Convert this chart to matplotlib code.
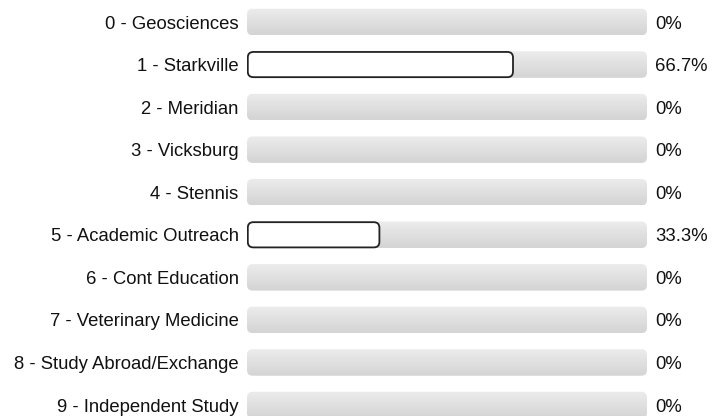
import matplotlib.pyplot as plt
import numpy as np
from matplotlib.patches import FancyBboxPatch
from matplotlib.colors import LinearSegmentedColormap

labels = ["0 - Geosciences", "1 - Starkville", "2 - Meridian", "3 - Vicksburg",
          "4 - Stennis", "5 - Academic Outreach", "6 - Cont Education",
          "7 - Veterinary Medicine", "8 - Study Abroad/Exchange",
          "9 - Independent Study"]
pct = [0, 66.7, 0, 0, 0, 33.3, 0, 0, 0, 0]
pct_text = ["0%", "66.7%", "0%", "0%", "0%", "33.3%", "0%", "0%", "0%", "0%"]

plt.rcParams['font.family'] = ['Liberation Sans', 'DejaVu Sans']

W, H = 713, 416
fig = plt.figure(figsize=(W / 100, H / 100), dpi=100)
ax = fig.add_axes([247 / W, 0, 400 / W, 1])
ax.axis('off')

px_x = 4.0        # pixels per x unit
px_y = 42.56      # pixels per row
bh = 26.5 / px_y
aspect = px_x / px_y
grad = np.linspace(0, 1, 50).reshape(-1, 1)
cmap = LinearSegmentedColormap.from_list('g', ['#ececec', '#d4d4d4'])

for i, (lab, v, t) in enumerate(zip(labels, pct, pct_text)):
    y0 = i - bh / 2
    bg = FancyBboxPatch((0, y0), 100, bh, boxstyle="round,pad=0,rounding_size=1.4",
                        mutation_aspect=aspect, fc='none', ec='none')
    ax.add_patch(bg)
    im = ax.imshow(grad, cmap=cmap, extent=(0, 100, y0 + bh, y0), aspect='auto',
                   interpolation='bilinear', zorder=1)
    im.set_clip_path(bg)
    if v > 0:
        ax.add_patch(FancyBboxPatch((0.2, y0 + 0.015), v - 0.4, bh - 0.03,
                                    boxstyle="round,pad=0,rounding_size=1.4",
                                    mutation_aspect=aspect, fc='white', ec='#222222',
                                    lw=1.3, zorder=2))
    ax.annotate(lab, (0, i), xytext=(-6, 0), textcoords='offset points',
                ha='right', va='center_baseline', fontsize=13.3, color='#111111')
    ax.annotate(t, (100, i), xytext=(6, 0), textcoords='offset points',
                ha='left', va='center_baseline', fontsize=13.3, color='#111111')

ax.set_xlim(0, 100)
ax.set_ylim(9.258, -0.517)
fig.savefig("out.png", dpi=100)
